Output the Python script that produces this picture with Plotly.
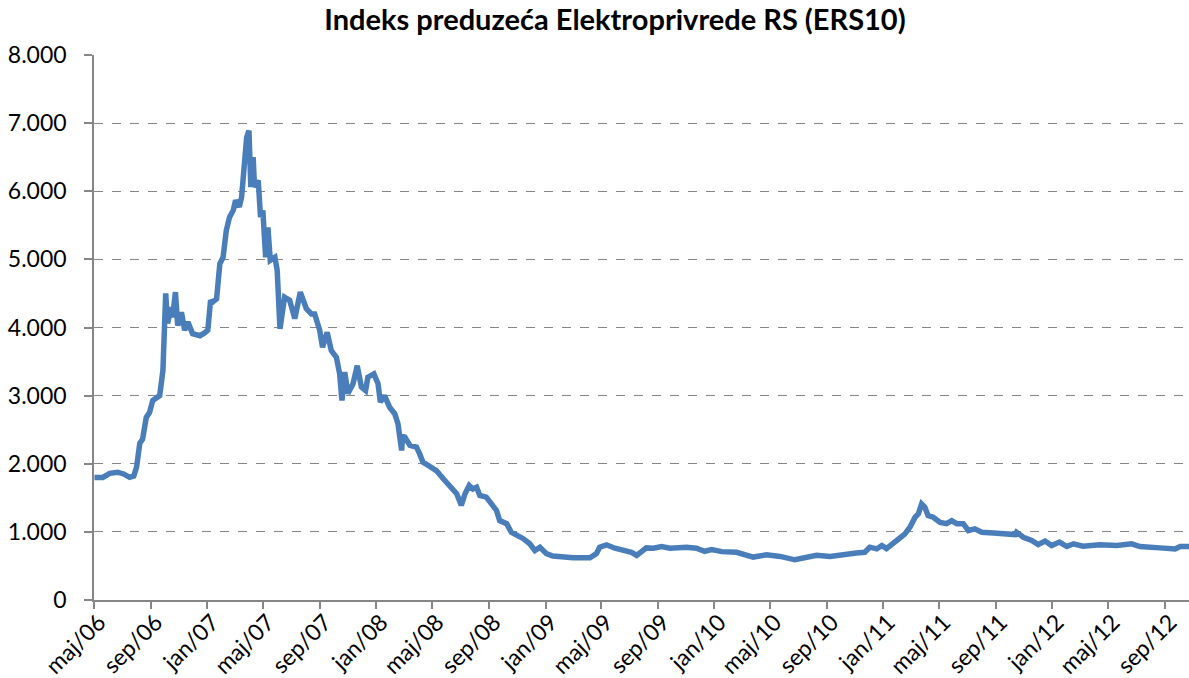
import plotly.graph_objects as go

dates = [
    "2006-05-02", "2006-05-20", "2006-06-04", "2006-06-21", "2006-07-04", "2006-07-17", "2006-07-26",
    "2006-08-01", "2006-08-08", "2006-08-14", "2006-08-22", "2006-08-29", "2006-09-05", "2006-09-20",
    "2006-09-27", "2006-10-01", "2006-10-03", "2006-10-07", "2006-10-15", "2006-10-18", "2006-10-24",
    "2006-10-29", "2006-11-06", "2006-11-13", "2006-11-20", "2006-11-30", "2006-12-16", "2006-12-26",
    "2007-01-02", "2007-01-08", "2007-01-12", "2007-01-21", "2007-01-28", "2007-02-04", "2007-02-11",
    "2007-02-18", "2007-02-26", "2007-03-03", "2007-03-11", "2007-03-16", "2007-03-21", "2007-03-27",
    "2007-04-01", "2007-04-05", "2007-04-10", "2007-04-13", "2007-04-21", "2007-04-26", "2007-05-01",
    "2007-05-07", "2007-05-12", "2007-05-17", "2007-05-27", "2007-06-01", "2007-06-07", "2007-06-17",
    "2007-06-28", "2007-07-09", "2007-07-21", "2007-08-03", "2007-08-14", "2007-08-21", "2007-09-01",
    "2007-09-07", "2007-09-17", "2007-09-26", "2007-10-07", "2007-10-14", "2007-10-19", "2007-10-25",
    "2007-11-01", "2007-11-12", "2007-11-21", "2007-11-30", "2007-12-09", "2007-12-14", "2007-12-27",
    "2008-01-05", "2008-01-10", "2008-01-19", "2008-01-30", "2008-02-10", "2008-02-17", "2008-02-25",
    "2008-02-27", "2008-03-03", "2008-03-14", "2008-03-28", "2008-04-04", "2008-04-11", "2008-04-26",
    "2008-05-10", "2008-05-25", "2008-06-12", "2008-06-23", "2008-07-03", "2008-07-11", "2008-07-20",
    "2008-07-28", "2008-08-05", "2008-08-12", "2008-08-26", "2008-09-06", "2008-09-17", "2008-09-24",
    "2008-10-09", "2008-10-19", "2008-11-03", "2008-11-14", "2008-11-28", "2008-12-09", "2008-12-20",
    "2009-01-03", "2009-01-17", "2009-03-02", "2009-04-07", "2009-04-21", "2009-04-28", "2009-05-13",
    "2009-05-31", "2009-06-25", "2009-07-06", "2009-07-17", "2009-07-24", "2009-08-07", "2009-08-22",
    "2009-09-09", "2009-09-27", "2009-11-02", "2009-11-23", "2009-12-11", "2009-12-26", "2010-01-17",
    "2010-02-18", "2010-03-04", "2010-03-26", "2010-04-24", "2010-05-23", "2010-06-24", "2010-07-19",
    "2010-08-10", "2010-09-08", "2010-09-29", "2010-10-21", "2010-11-04", "2010-11-22", "2010-12-03",
    "2010-12-18", "2010-12-29", "2011-01-08", "2011-01-23", "2011-02-06", "2011-02-17", "2011-02-28",
    "2011-03-11", "2011-03-18", "2011-03-25", "2011-04-01", "2011-04-08", "2011-04-19", "2011-05-04",
    "2011-05-18", "2011-05-29", "2011-06-09", "2011-06-23", "2011-07-04", "2011-07-18", "2011-08-02",
    "2011-08-27", "2011-09-17", "2011-10-13", "2011-10-16", "2011-10-31", "2011-11-18", "2011-12-02",
    "2011-12-17", "2011-12-31", "2012-01-17", "2012-02-02", "2012-02-16", "2012-03-08", "2012-04-13",
    "2012-05-20", "2012-06-21", "2012-07-09", "2012-08-21", "2012-09-23", "2012-10-04", "2012-10-23",
]

values = [
    1800, 1800, 1860, 1876, 1850, 1800, 1820,
    1950, 2300, 2360, 2680, 2750, 2930, 3000,
    3370, 3900, 4500, 4060, 4300, 4150, 4520,
    4030, 4225, 3960, 4080, 3910, 3880, 3920,
    3960, 4400, 4370, 4420, 4935, 5030, 5425,
    5620, 5720, 5865, 5770, 5910, 6400, 6790,
    6890, 6060, 6500, 6060, 6160, 5620, 5720,
    5030, 5470, 4985, 5030, 4840, 3980, 4445,
    4400, 4130, 4520, 4275, 4200, 4200, 3956,
    3710, 3930, 3660, 3560, 3320, 2930, 3345,
    3030, 3175, 3440, 3125, 3075, 3270, 3320,
    3175, 2905, 3000, 2830, 2735, 2590, 2195,
    2400, 2390, 2270, 2245, 2145, 2025, 1960,
    1900, 1780, 1655, 1560, 1390, 1560, 1680,
    1630, 1655, 1535, 1510, 1410, 1315, 1165,
    1120, 995, 945, 900, 825, 725, 775,
    680, 645, 620, 620, 680, 775, 810,
    760, 725, 700, 655, 700, 765, 760,
    785, 760, 775, 760, 715, 740, 710,
    700, 665, 630, 665, 640, 590, 630,
    655, 640, 665, 680, 690, 700, 775,
    750, 800, 755, 825, 910, 970, 1070,
    1215, 1265, 1410, 1360, 1240, 1215, 1140,
    1120, 1165, 1120, 1120, 1020, 1045, 995,
    985, 970, 960, 995, 920, 875, 815,
    865, 800, 850, 785, 825, 790, 810,
    800, 825, 785, 765, 748, 785, 785,
]

x_tick_vals = [
    "2006-05-01", "2006-09-01", "2007-01-01", "2007-05-01", "2007-09-01",
    "2008-01-01", "2008-05-01", "2008-09-01", "2009-01-01", "2009-05-01",
    "2009-09-01", "2010-01-01", "2010-05-01", "2010-09-01", "2011-01-01",
    "2011-05-01", "2011-09-01", "2012-01-01", "2012-05-01", "2012-09-01",
]
x_tick_text = [
    "maj/06", "sep/06", "jan/07", "maj/07", "sep/07",
    "jan/08", "maj/08", "sep/08", "jan/09", "maj/09",
    "sep/09", "jan/10", "maj/10", "sep/10", "jan/11",
    "maj/11", "sep/11", "jan/12", "maj/12", "sep/12",
]
y_tick_vals = [0, 1000, 2000, 3000, 4000, 5000, 6000, 7000, 8000]
y_tick_text = ["0", "1.000", "2.000", "3.000", "4.000", "5.000", "6.000", "7.000", "8.000"]

title_text = "Indeks preduzeća Elektroprivrede RS (ERS10)"

FONT = "Lato, 'Open Sans', sans-serif"

fig = go.Figure()
fig.add_trace(go.Scatter(
    x=dates, y=values, mode="lines",
    line=dict(color="#4A7EBB", width=5.5),
    hoverinfo="x+y",
))

fig.update_layout(
    width=1189, height=678,
    margin=dict(l=94, r=0, t=55, b=78, autoexpand=False),
    paper_bgcolor="white", plot_bgcolor="white",
    showlegend=False,
    font=dict(family=FONT, color="black", size=23),
    title=dict(
        text="<b>" + title_text + "</b>",
        x=615 / 1189, xref="container", xanchor="center",
        y=1 - 20 / 678, yref="container", yanchor="middle",
        font=dict(family=FONT, size=29, color="black"),
    ),
    xaxis=dict(
        type="date",
        range=["2006-05-01", "2012-10-23"],
        automargin=False,
        tickmode="array", tickvals=x_tick_vals, ticktext=x_tick_text,
        tickangle=-45,
        showgrid=False, zeroline=False,
        showline=True, linecolor="#868686", linewidth=1.5,
        ticks="outside", ticklen=7, tickcolor="#868686", tickwidth=1.5,
        tickfont=dict(family=FONT, size=23, color="black"),
        ticklabelstandoff=-9,
        ticklabelshift=5,
    ),
    yaxis=dict(
        range=[0, 8000],
        automargin=False,
        tickmode="array", tickvals=y_tick_vals, ticktext=y_tick_text,
        showgrid=True, gridcolor="#868686", gridwidth=1.2, griddash="dash",
        zeroline=False,
        showline=True, linecolor="#868686", linewidth=1.5,
        ticks="outside", ticklen=8, tickcolor="#868686", tickwidth=1.5,
        tickfont=dict(family=FONT, size=23, color="black"),
        ticklabelstandoff=13,
    ),
)

fig.write_html(
    "out.html",
    config={"displayModeBar": False},
    post_script="document.body.style.margin='0';document.body.style.overflow='hidden';",
)
